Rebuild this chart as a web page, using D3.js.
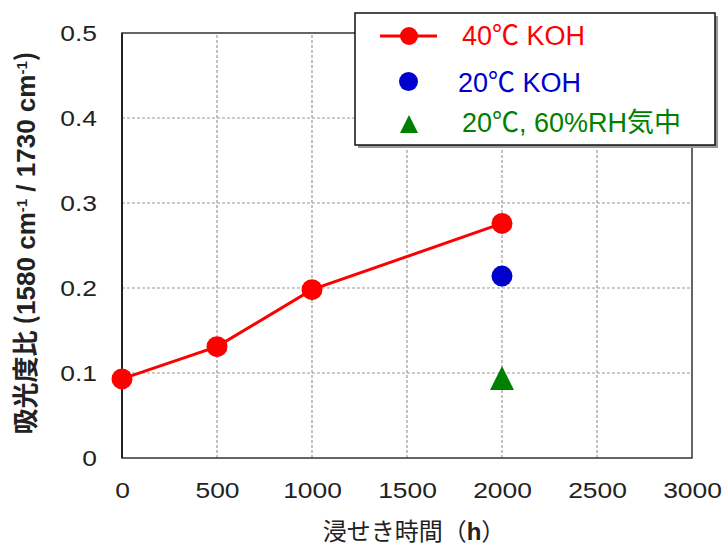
<!DOCTYPE html>
<html><head><meta charset="utf-8">
<script src="https://cdn.jsdelivr.net/npm/d3@7"></script>
<style>body{margin:0;background:#fff}</style>
</head><body>
<script>
const xTicks = [0,500,1000,1500,2000,2500,3000];
const yTicks = [0,0.1,0.2,0.3,0.4,0.5];
const s40x = [0,500,1000,2000];
const s40y = [0.093,0.131,0.198,0.276];
const s20x = [2000];
const s20y = [0.214];
const sAirx = [2000];
const sAiry = [0.094];
const legendLabels = ["40℃ KOH","20℃ KOH","20℃, 60%RH気中"];
const colors = ["#ff0000","#0000cc","#008000"];

const W=724,H=547;
const svg=d3.select("body").append("svg").attr("width",W).attr("height",H);
const x=d3.scaleLinear().domain([0,3000]).range([122,692]);
const y=d3.scaleLinear().domain([0,0.5]).range([458,33]);
const font="Arial, 'Liberation Sans', sans-serif";

// bbox-centred triangle symbol
const triangle={draw(ctx,size){const s=Math.sqrt(size);ctx.moveTo(0,-s/2);ctx.lineTo(s/2,s/2);ctx.lineTo(-s/2,s/2);ctx.closePath();}};

// grid
svg.append("g").selectAll("line").data(xTicks.slice(1,-1)).join("line")
 .attr("x1",d=>x(d)).attr("x2",d=>x(d)).attr("y1",y(0)).attr("y2",y(0.5))
 .attr("stroke","#999").attr("stroke-width",1.2).attr("stroke-dasharray","3,2");
svg.append("g").selectAll("line").data(yTicks.slice(1,-1)).join("line")
 .attr("y1",d=>y(d)).attr("y2",d=>y(d)).attr("x1",x(0)).attr("x2",x(3000))
 .attr("stroke","#999").attr("stroke-width",1.2).attr("stroke-dasharray","3,2");
// frame
svg.append("rect").attr("x",x(0)).attr("y",y(0.5)).attr("width",x(3000)-x(0)).attr("height",y(0)-y(0.5))
 .attr("fill","none").attr("stroke","#333").attr("stroke-width",1.5);
svg.append("line").attr("x1",x(0)).attr("x2",x(0)).attr("y1",y(0)).attr("y2",y(0.5)).attr("stroke","#222").attr("stroke-width",2);

// axes
const xa=svg.append("g").attr("transform",`translate(0,${y(0)})`)
 .call(d3.axisBottom(x).tickValues(xTicks).tickSize(0).tickFormat(d3.format("d")));
xa.select(".domain").remove();
xa.selectAll("text").attr("font-family",font).attr("font-size",22).attr("fill","#222")
 .attr("y",40).attr("dy",0).attr("transform","scale(1.2,1)");
const ya=svg.append("g").attr("transform",`translate(${x(0)},0)`)
 .call(d3.axisLeft(y).tickValues(yTicks).tickSize(0).tickFormat(d=>d===0?"0":d3.format(".1f")(d)));
ya.select(".domain").remove();
ya.selectAll("text").attr("font-family",font).attr("font-size",22).attr("fill","#222")
 .attr("x",-25/1.2).attr("dy","0.36em").attr("transform","scale(1.2,1)");

// series 40
const line=d3.line().x(d=>x(d[0])).y(d=>y(d[1]));
const d40=s40x.map((v,i)=>[v,s40y[i]]);
svg.append("path").datum(d40).attr("d",line).attr("fill","none").attr("stroke",colors[0]).attr("stroke-width",3);
svg.append("g").selectAll("circle").data(d40).join("circle")
 .attr("cx",d=>x(d[0])).attr("cy",d=>y(d[1])).attr("r",10.5).attr("fill",colors[0]);
svg.append("g").selectAll("circle").data(s20x.map((v,i)=>[v,s20y[i]])).join("circle")
 .attr("cx",d=>x(d[0])).attr("cy",d=>y(d[1])).attr("r",10.5).attr("fill",colors[1]);
const tri=d3.symbol().type(triangle).size(24*24);
svg.append("g").selectAll("path").data(sAirx.map((v,i)=>[v,sAiry[i]])).join("path")
 .attr("d",tri).attr("transform",d=>`translate(${x(d[0])},${y(d[1])})`).attr("fill",colors[2]);

// legend
const lg=svg.append("g");
lg.append("rect").attr("x",358).attr("y",16).attr("width",360).attr("height",132).attr("fill","#999");
lg.append("rect").attr("x",355).attr("y",13).attr("width",360).attr("height",132).attr("fill","#fff").attr("stroke","#111").attr("stroke-width",1.5);
lg.append("line").attr("x1",380).attr("x2",437).attr("y1",36).attr("y2",36).attr("stroke",colors[0]).attr("stroke-width",3);
lg.append("circle").attr("cx",409).attr("cy",36).attr("r",9).attr("fill",colors[0]);
lg.append("circle").attr("cx",408.5).attr("cy",81.5).attr("r",9.5).attr("fill",colors[1]);
lg.append("path").attr("d",d3.symbol().type(triangle).size(18*18)).attr("transform","translate(409,124)").attr("fill",colors[2]);
const lx=[462,458,462], ly=[45,92,132];
legendLabels.forEach((t,i)=>{
 lg.append("text").attr("x",lx[i]).attr("y",ly[i]).attr("fill",colors[i])
  .attr("font-family",font+", 'Noto Sans CJK JP'").attr("font-size",27).text(t);
});

// x label
const xl=svg.append("text").attr("x",414).attr("y",540).attr("text-anchor","middle")
 .attr("font-family","'Noto Sans CJK JP', sans-serif").attr("font-size",24).attr("fill","#222");
xl.append("tspan").text("浸せき時間（");
xl.append("tspan").attr("font-family",font).attr("font-weight","bold").text("h");
xl.append("tspan").text("）");

// y label
const yl=svg.append("text").attr("transform","translate(35,243) rotate(-90)").attr("text-anchor","middle")
 .attr("font-family","'Noto Sans CJK JP', sans-serif").attr("font-weight","bold").attr("font-size",26).attr("fill","#222");
yl.append("tspan").text("吸光度比 (");
yl.append("tspan").attr("font-family",font).text("1580 cm");
yl.append("tspan").attr("font-family",font).attr("font-size",15).attr("baseline-shift","super").text("-1");
yl.append("tspan").attr("font-family",font).text(" / 1730 cm");
yl.append("tspan").attr("font-family",font).attr("font-size",15).attr("baseline-shift","super").text("-1");
yl.append("tspan").text(")");
</script>
</body></html>
